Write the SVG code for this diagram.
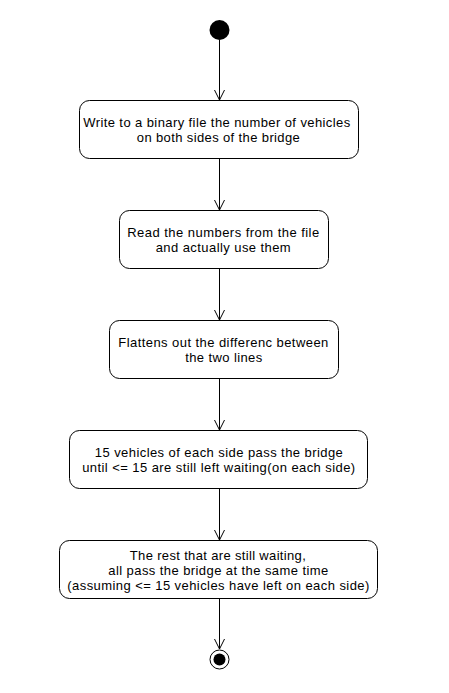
<svg xmlns="http://www.w3.org/2000/svg" width="449" height="693" viewBox="0 0 449 693">
<style>
.box{fill:#fff;stroke:#000;stroke-width:1}
.t{font-family:"Liberation Sans",Arial,sans-serif;font-size:13px;fill:#000;text-anchor:middle}
.edge{stroke:#000;stroke-width:1;fill:none}
</style>
<defs>
<marker id="open" markerWidth="12" markerHeight="12" refX="10" refY="5" orient="auto" markerUnits="userSpaceOnUse">
<path d="M0,0 L10,5 L0,10" fill="none" stroke="#000" stroke-width="1"/>
</marker>
</defs>
<rect width="449" height="693" fill="#fff"/>
<g id="connectors">
<line class="edge" x1="219.5" y1="40" x2="219.5" y2="100" marker-end="url(#open)"/>
<line class="edge" x1="219.5" y1="159" x2="219.5" y2="210" marker-end="url(#open)"/>
<line class="edge" x1="219.5" y1="269" x2="219.5" y2="320" marker-end="url(#open)"/>
<line class="edge" x1="219.5" y1="379" x2="219.5" y2="430" marker-end="url(#open)"/>
<line class="edge" x1="219.5" y1="489" x2="219.5" y2="540" marker-end="url(#open)"/>
<line class="edge" x1="219.5" y1="599" x2="219.5" y2="649" marker-end="url(#open)"/>
</g>
<g id="start"><circle cx="219.5" cy="30" r="10" fill="#000"/></g>
<g id="n1">
<rect class="box" x="79.5" y="100.5" width="279" height="58" rx="10"/>
<text class="t" x="216.7" y="127" textLength="267" lengthAdjust="spacing">Write to a binary file the number of vehicles</text>
<text class="t" x="218.3" y="142" textLength="163" lengthAdjust="spacing">on both sides of the bridge</text>
</g>
<g id="n2">
<rect class="box" x="119.5" y="210.5" width="209" height="58" rx="10"/>
<text class="t" x="223.2" y="237" textLength="192" lengthAdjust="spacing">Read the numbers from the file</text>
<text class="t" x="223.2" y="252" textLength="135" lengthAdjust="spacing">and actually use them</text>
</g>
<g id="n3">
<rect class="box" x="109.5" y="320.5" width="229" height="58" rx="10"/>
<text class="t" x="223.3" y="347" textLength="210" lengthAdjust="spacing">Flattens out the differenc between</text>
<text class="t" x="223.7" y="362" textLength="77" lengthAdjust="spacing">the two lines</text>
</g>
<g id="n4">
<rect class="box" x="69.5" y="430.5" width="298" height="58" rx="10"/>
<text class="t" x="218.8" y="457" textLength="248" lengthAdjust="spacing">15 vehicles of each side pass the bridge</text>
<text class="t" x="218.7" y="472" textLength="273" lengthAdjust="spacing">until &lt;= 15 are still left waiting(on each side)</text>
</g>
<g id="n5">
<rect class="box" x="59.5" y="540.5" width="318" height="58" rx="10"/>
<text class="t" x="217.8" y="560" textLength="176" lengthAdjust="spacing">The rest that are still waiting,</text>
<text class="t" x="218.3" y="575" textLength="220" lengthAdjust="spacing">all pass the bridge at the same time</text>
<text class="t" x="218.3" y="590" textLength="302" lengthAdjust="spacing">(assuming &lt;= 15 vehicles have left on each side)</text>
</g>
<g id="end">
<circle cx="219.5" cy="659.5" r="9.5" fill="#fff" stroke="#000" stroke-width="1"/>
<circle cx="219.5" cy="659.5" r="6" fill="#000"/>
</g>
</svg>
